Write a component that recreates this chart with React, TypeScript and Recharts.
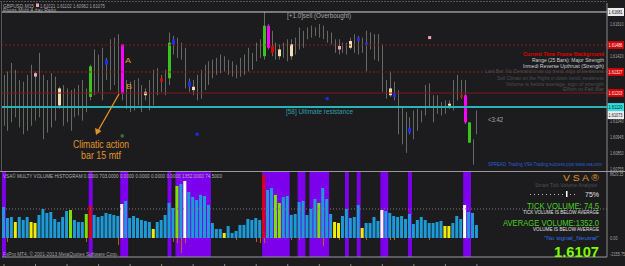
import React from "react"
import { ComposedChart, Bar, Line, XAxis, YAxis, ReferenceLine, ReferenceArea } from "recharts"

// GBPUSD M15, 14 Jul 10:00 -> 15 Jul 16:00, one entry per bar
const highs = [
  1.6131, 1.6133, 1.6138, 1.6134, 1.6128, 1.6127, 1.6131, 1.6137, 1.6133, 1.6144,
  1.6131, 1.6128, 1.6132, 1.613, 1.6124, 1.6125, 1.6123, 1.6122, 1.6123, 1.6125,
  1.6128, 1.6123, 1.6137, 1.6146, 1.6143, 1.6147, 1.6141, 1.6152, 1.6153, 1.6155,
  1.6149, 1.6128, 1.6127, 1.6128, 1.6129, 1.6125, 1.6123, 1.6128, 1.6134, 1.6135,
  1.6131, 1.6134, 1.6156, 1.6154, 1.6153, 1.615, 1.6147, 1.6129, 1.6128, 1.6131,
  1.6134, 1.6137, 1.6139, 1.614, 1.6141, 1.6143, 1.6142, 1.614, 1.6139, 1.6137,
  1.6141, 1.6143, 1.6147, 1.6144, 1.615, 1.6152, 1.6168, 1.6161, 1.6157, 1.615,
  1.6149, 1.615, 1.6152, 1.6152, 1.6153, 1.6159, 1.6157, 1.6159, 1.616, 1.6159,
  1.6161, 1.616, 1.6157, 1.6156, 1.6152, 1.6152, 1.615, 1.615, 1.6153, 1.6155,
  1.6154, 1.6153, 1.6157, 1.6156, 1.6155, 1.6155, 1.6149, 1.6128, 1.6133, 1.6127,
  1.6122, 1.6112, 1.6109, 1.6106, 1.611, 1.6111, 1.611, 1.6125, 1.6126, 1.6119,
  1.6119, 1.6115, 1.6116, 1.6116, 1.6128, 1.6131, 1.6128, 1.6128, 1.6103, 1.6093,
  1.611,
]
const lows = [
  1.6101, 1.6098, 1.6103, 1.6106, 1.61, 1.6096, 1.6098, 1.6101, 1.6104, 1.6106,
  1.6093, 1.6097, 1.61, 1.6104, 1.6111, 1.6101, 1.6103, 1.6098, 1.6106, 1.6107,
  1.6104, 1.6109, 1.6116, 1.6119, 1.6121, 1.6116, 1.6128, 1.6122, 1.6125, 1.6119,
  1.6116, 1.6111, 1.6109, 1.611, 1.6113, 1.6109, 1.6116, 1.611, 1.6113, 1.6119,
  1.6121, 1.6119, 1.6125, 1.6143, 1.6141, 1.614, 1.6123, 1.6121, 1.6119, 1.6116,
  1.6117, 1.6122, 1.6125, 1.6129, 1.6131, 1.6132, 1.6133, 1.6131, 1.613, 1.6129,
  1.613, 1.6131, 1.6133, 1.6134, 1.6139, 1.6141, 1.614, 1.6146, 1.6142, 1.614,
  1.614, 1.6141, 1.6139, 1.614, 1.6143, 1.6146, 1.6147, 1.6152, 1.6153, 1.6154,
  1.6153, 1.6152, 1.615, 1.6149, 1.6144, 1.6143, 1.6144, 1.6143, 1.6146, 1.6144,
  1.6143, 1.6144, 1.6133, 1.6146, 1.614, 1.6139, 1.6121, 1.6117, 1.6118, 1.6116,
  1.6096, 1.609, 1.6085, 1.6096, 1.6093, 1.6098, 1.6103, 1.6107, 1.6112, 1.6103,
  1.6108, 1.6107, 1.6108, 1.6111, 1.611, 1.6116, 1.6117, 1.6102, 1.6091, 1.6078,
  1.6096,
]
// highlighted candle bodies: [bar, top, bottom, signal kind]
const bodies: [number, number, number, string][] = [
  [8, 1.6132, 1.613, "pink"], [14, 1.6123, 1.6113, "tan"], [22, 1.6136, 1.6118, "green"],
  [26, 1.614, 1.6137, "blue"], [30, 1.6149, 1.612, "magenta"], [36, 1.6121, 1.6119, "tan"],
  [40, 1.6129, 1.6127, "red"], [42, 1.615, 1.6129, "green"], [43, 1.6152, 1.6149, "blue"],
  [47, 1.6127, 1.6124, "blue"], [48, 1.6124, 1.6122, "tan"], [66, 1.616, 1.6142, "green"],
  [67, 1.616, 1.6147, "magenta"], [68, 1.6148, 1.6144, "red"], [70, 1.6146, 1.6142, "tan"],
  [73, 1.6149, 1.6142, "tan"], [85, 1.6148, 1.6146, "pink"], [88, 1.6151, 1.6147, "tan"],
  [90, 1.6153, 1.6151, "blue"], [92, 1.615, 1.6149, "blue"], [98, 1.6123, 1.6119, "tan"],
  [99, 1.612, 1.6118, "blue"], [103, 1.61, 1.6097, "blue"], [113, 1.6114, 1.6113, "tan"],
  [116, 1.6119, 1.6118, "red"], [117, 1.6119, 1.6103, "magenta"], [118, 1.6103, 1.6091, "green"],
]
const signals: [number, number, string][] = [
  [30, 1.6095, "darkgreen"], [49, 1.6096, "blue"], [82, 1.6117, "blue"], [108, 1.6153, "pink"],
]

const volumes = [
  4190, 2700, 2840, 2160, 2840, 2430, 2840, 2160, 2030, 3110,
  3920, 3380, 3510, 2570, 2160, 2840, 3650, 3780, 2430, 2160,
  2160, 3240, 4320, 3110, 2840, 2970, 3380, 3240, 3110, 2970,
  4590, 5000, 2700, 2970, 2700, 2430, 2300, 2160, 1220, 2160,
  2430, 3110, 4730, 4050, 7020, 7290, 7700, 6210, 5540, 5130,
  5810, 5670, 4460, 2030, 1220, 1220, 680, 1620, 680, 950,
  1760, 1760, 2570, 2430, 2700, 2430, 8510, 6480, 6750, 5810,
  4730, 5540, 5670, 3110, 3240, 4860, 5000, 3110, 3920, 5270,
  4730, 6750, 5270, 3240, 2160, 2030, 2970, 3920, 2700, 2840,
  4460, 1350, 2030, 2030, 2840, 2300, 3780, 3650, 3380, 2970,
  2840, 2970, 2570, 3240, 1890, 2430, 2840, 2430, 2030, 2030,
  2160, 2300, 1620, 1620, 2030, 2970, 2570, 4460, 3510, 3380,
  1760,
]
const yellowBars = [3, 7, 8, 38, 56, 84, 85, 91, 112, 113]
const greenBars = [17, 21, 44, 69, 70, 80]
const redBars = [22, 66]
const whiteBars = [30, 46, 96, 117]
const downTicks: [number, number][] = [
  [1, -540], [21, -540], [29, -950], [43, -540], [44, -680], [45, -2030], [46, -680],
  [59, -270], [64, -540], [65, -680], [66, -680], [73, -270], [75, -270], [81, -1080],
  [85, -270], [92, -270], [98, -270], [99, -270], [108, -270],
]
const climaxBands: [number, number][] = [
  [0, 0], [22, 22], [30, 31], [42, 42], [44, 52], [66, 72], [75, 76], [78, 82],
  [87, 87], [90, 90], [96, 97], [103, 103], [117, 118],
]
const avgVolume = 3920

const timeTicks = [0, 8, 16, 24, 32, 40, 48, 56, 64, 72, 80, 88, 96, 104, 112, 120]
const timeLabels = [
  "14 Jul 2011", "14 Jul 12:00", "14 Jul 14:00", "14 Jul 16:00", "14 Jul 18:00",
  "14 Jul 20:00", "14 Jul 22:00", "15 Jul 00:00", "15 Jul 02:00", "15 Jul 04:00",
  "15 Jul 06:00", "15 Jul 08:00", "15 Jul 10:00", "15 Jul 12:00", "15 Jul 14:00",
  "15 Jul 16:00",
]
const priceTicks = [1.60755, 1.6085, 1.60945, 1.6104, 1.61135, 1.6123, 1.61325, 1.6142, 1.61515, 1.6161]
const volTicks = [8620.15, 0, -2155.75]

const weekHigh = 1.61681
const supplyLevels = [1.61486, 1.61327]
const dayLevel = 1.61203
const resistance = 1.6112
const bid = 1.61073
// price tags on the axis hide the tick labels that sit under them
const tagged = [weekHigh, ...supplyLevels, dayLevel, resistance, bid]

const bodyColors: Record<string, string> = {
  pink: "#f4a6b8", tan: "#f6ddb0", green: "#3cc21c", blue: "#1c2cf0",
  magenta: "#ff00ff", red: "#e00000", darkgreen: "#2e7d32",
}
const volColor = (i: number) =>
  redBars.includes(i) ? "#e00000"
    : whiteBars.includes(i) ? "#ffffff"
    : yellowBars.includes(i) ? "#f2ec00"
    : greenBars.includes(i) ? "#7ee000"
    : "#1e9ad6"

const candles = highs.map((h, i) => {
  const b = bodies.find((x) => x[0] === i)
  const s = signals.find((x) => x[0] === i)
  return {
    i,
    range: [lows[i], h],
    body: b ? { top: b[1], bottom: b[2], kind: b[3] } : null,
    sig: s ? s[1] : null,
    sigKind: s ? s[2] : null,
  }
})
const volData = volumes.map((v, i) => {
  const d = downTicks.find((x) => x[0] === i)
  return { i, vol: v, down: d ? d[1] : 0 }
})

const FONT = "'Liberation Sans', Arial, sans-serif"
const GRAY = "#a4a4a4"

const CandleShape = (props: any) => {
  const { x, y, width, height, payload } = props
  if (x == null || !payload) return <g />
  const top = Math.min(y, y + height)
  const h = Math.abs(height)
  const cx = Math.round(x + width / 2) + 0.5
  const [lo, hi] = payload.range
  const k = h / (hi - lo || 1)
  const b = payload.body
  return (
    <g>
      <line x1={cx} x2={cx} y1={top} y2={top + h} stroke="#646a61" strokeWidth={1} />
      {b && (
        <rect
          x={cx - 1.5}
          y={top + (hi - b.top) * k}
          width={3}
          height={Math.max(2, (b.top - b.bottom) * k)}
          fill={bodyColors[b.kind]}
        />
      )}
    </g>
  )
}

const SignalDot = (props: any) => {
  const { cx, cy, payload, index } = props
  if (!payload || payload.sig == null || cy == null) return <g key={`s-${index}`} />
  return <rect key={`s-${index}`} x={cx - 1.5} y={cy - 1.5} width={3} height={3} fill={bodyColors[payload.sigKind]} />
}

const VolShape = (props: any) => {
  const { x, y, width, height, payload } = props
  if (x == null || !payload) return <g />
  return <rect x={x} y={Math.min(y, y + height)} width={width} height={Math.abs(height)} fill={volColor(payload.i)} />
}

const DownShape = (props: any) => {
  const { x, y, width, height } = props
  if (x == null || !height) return <g />
  return <rect x={Math.round(x + width / 2)} y={Math.min(y, y + height)} width={1} height={Math.abs(height)} fill="#c8580c" />
}

const PriceTick = (props: any) => {
  const { x, y, payload } = props
  if (tagged.some((p) => Math.abs(p - payload.value) < 0.0003)) return <g />
  return (
    <text x={x} y={y + 2} fontSize={5.5} fill={GRAY} fontFamily={FONT} textLength={13.5} lengthAdjust="spacingAndGlyphs">
      {payload.value.toFixed(5)}
    </text>
  )
}

const VolTick = (props: any) => {
  const { x, y, payload } = props
  const s = payload.value.toFixed(2)
  return (
    <text x={x} y={y + 2} fontSize={5.5} fill={GRAY} fontFamily={FONT} textLength={s.length * 1.9} lengthAdjust="spacingAndGlyphs">
      {s}
    </text>
  )
}

const TimeTick = (props: any) => {
  const { x, y, payload } = props
  const label = timeLabels[timeTicks.indexOf(payload.value)]
  return (
    <g>
      <line x1={x} x2={x} y1={y - 1} y2={y + 1} stroke="#888" />
      <text x={x - 3} y={y + 7} fontSize={5} fill={GRAY} fontFamily={FONT} textLength={23} lengthAdjust="spacingAndGlyphs">
        {label}
      </text>
    </g>
  )
}

const boxLabel = (bg: string, fg: string, text: string) => (props: any) => {
  const vb = props.viewBox
  if (!vb) return <g />
  const x = vb.x + vb.width + 0.5
  const y = vb.y
  return (
    <g>
      <rect x={x} y={y - 4} width={16.5} height={8} fill={bg} />
      <text x={x + 1} y={y + 2.2} fontSize={5.5} fill={fg} fontFamily={FONT} textLength={14} lengthAdjust="spacingAndGlyphs">
        {text}
      </text>
    </g>
  )
}

const T = ({ x, y, w, size = 5.5, color = GRAY, bold = false, children }: any) => (
  <text x={x} y={y} fontSize={size} fill={color} fontFamily={FONT} fontWeight={bold ? "bold" : "normal"}
    textLength={w} lengthAdjust="spacingAndGlyphs">
    {children}
  </text>
)

export default function App() {
  return (
    <div style={{ position: "relative", width: 625, height: 266, background: "#1c1c1f", overflow: "hidden" }}>
      <style>{`body{margin:0;background:#1c1c1f}`}</style>

      <div style={{ position: "absolute", left: 0, top: 0 }}>
        <ComposedChart width={625} height={172} data={candles} margin={{ top: 3, right: 0, bottom: 1, left: 2 }}>
          <XAxis dataKey="i" type="number" domain={[-0.5, 153]} hide allowDataOverflow />
          <YAxis
            orientation="right"
            width={18}
            domain={[1.60743, 1.61734]}
            ticks={priceTicks}
            interval={0}
            tick={PriceTick}
            tickLine={false}
            tickSize={1}
            axisLine={{ stroke: "#8a8a8a" }}
            allowDataOverflow
          />
          <ReferenceLine y={weekHigh} stroke="#d8d8d8" label={boxLabel("#ececec", "#111", weekHigh.toFixed(5))} />
          {supplyLevels.map((p) => (
            <ReferenceLine key={p} y={p} stroke="#8c1c1c" strokeDasharray="2 2" label={boxLabel("#d00000", "#fff", p.toFixed(5))} />
          ))}
          <ReferenceLine y={dayLevel} stroke="#7c1818" label={boxLabel("#d00000", "#fff", dayLevel.toFixed(5))} />
          <ReferenceLine y={resistance} stroke="#28b4b8" strokeWidth={2} label={boxLabel("#2ee0e0", "#111", resistance.toFixed(5))} />
          <ReferenceLine y={bid} stroke="none" label={boxLabel("#ececec", "#111", bid.toFixed(5))} />
          <Bar dataKey="range" barSize={3} shape={CandleShape} isAnimationActive={false} />
          <Line dataKey="sig" stroke="none" dot={SignalDot} activeDot={false} isAnimationActive={false} connectNulls={false} />
        </ComposedChart>
      </div>

      <div style={{ position: "absolute", left: 0, top: 172 }}>
        <ComposedChart width={625} height={94} data={volData} margin={{ top: 0, right: 0, bottom: 0, left: 2 }} stackOffset="sign">
          <XAxis
            dataKey="i"
            type="number"
            domain={[-0.5, 153]}
            ticks={timeTicks}
            interval={0}
            height={9}
            tick={TimeTick}
            tickLine={false}
            axisLine={{ stroke: "#9a9a9a" }}
            allowDataOverflow
          />
          <YAxis
            orientation="right"
            width={18}
            domain={[-2565, 8910]}
            ticks={volTicks}
            interval={0}
            tick={VolTick}
            tickLine={false}
            tickSize={1}
            axisLine={{ stroke: "#8a8a8a" }}
            allowDataOverflow
          />
          {climaxBands.map(([a, b]) => (
            <ReferenceArea key={a} x1={a - 0.5} x2={b + 0.5} fill="#7d00ec" fillOpacity={1} stroke="none" />
          ))}
          <ReferenceLine y={avgVolume} stroke="#7a7a7a" strokeDasharray="1 2" />
          <Bar dataKey="vol" stackId="v" barSize={3} shape={VolShape} isAnimationActive={false} />
          <Bar dataKey="down" stackId="v" barSize={3} shape={DownShape} isAnimationActive={false} />
        </ComposedChart>
      </div>

      <svg width={625} height={266} style={{ position: "absolute", left: 0, top: 0, pointerEvents: "none" }}>
        <line x1={0} x2={607} y1={1.5} y2={1.5} stroke="#555" strokeDasharray="2 1" />
        <line x1={1.5} x2={1.5} y1={1} y2={171} stroke="#555" />
        <line x1={0} x2={625} y1={171.5} y2={171.5} stroke="#9a9a9a" />

        <T x={3} y={7.5} w={31}>GBPUSD,M15</T>
        <rect x={36} y={3.5} width={3} height={3.5} fill="#f4a6b8" />
        <T x={40} y={7.5} w={65}>1.61021 1.61102 1.60962 1.61075</T>
        <T x={3} y={11.5} w={53} size={5}>Pivots Multi 4 day Ratio</T>
        <T x={287} y={18} w={64} size={7}>[+1.0]sell (Overbought)</T>

        <T x={125} y={63} w={6} size={8} color="#e0952a">A</T>
        <T x={126} y={89} w={6} size={8} color="#e0952a">B</T>
        <line x1={119} y1={94} x2={98.5} y2={130} stroke="#e0952a" strokeWidth={1.3} />
        <polygon points="96,135 95,128 101.5,131" fill="#e0952a" />
        <T x={73} y={148} w={56} size={10} color="#e0952a">Climatic action</T>
        <T x={81} y={159} w={40} size={10} color="#e0952a">bar 15 mtf</T>

        <T x={286} y={114} w={67} size={7} color="#2d9ca5">[58] Ultimate resistance</T>

        <T x={523} y={55.5} w={81} color="#e00000" bold>Current Time Frame Background</T>
        <T x={532} y={62} w={72} color="#d0d0d0">Range (25 Bars): Major Strength</T>
        <T x={523} y={68} w={81} color="#d0d0d0">Inmedi Reverse Upthrust (Strength)</T>
        <T x={485} y={73} w={119} color="#4c4c4c">Last Bar: No Demand in an up trend, sign of weakness</T>
        <T x={497} y={79.5} w={107} color="#4c4c4c">Sell Climax on the Highs in down trend, weakness</T>
        <T x={506} y={85.5} w={98} color="#4c4c4c">Volume is below average, sign of strength</T>
        <T x={563} y={91} w={41} color="#4c4c4c">Effort to Fall Bar</T>

        <T x={488} y={122} w={15} size={6.5} color="#a8a8a8">&lt;3:42</T>
        <T x={488} y={166} w={114} color="#2a5fd0">SPREAD: Trading VSA Trading success pips www.vsa.com</T>

        <T x={3} y={177.5} w={219} color="#b0b0b0">VSA© MULTY VOLUME HISTOGRAM 0.0000 703.0000 0.0000 0.0000 0.0000 0.0000 1352.0000 74.5000</T>
        <T x={3} y={256} w={115} color="#a0a0a0">FxPro MT4, © 2001-2013 MetaQuotes Software Corp.</T>

        <T x={563} y={181} w={36} size={9} color="#e0952a">V S A ®</T>
        <T x={535} y={186.5} w={62} size={5} color="#505050">Smart Tick Volume Analysis</T>
        <line x1={530} x2={577} y1={194.5} y2={194.5} stroke="#bbb" strokeDasharray="1 3" />
        <rect x={566} y={191} width={1.5} height={6} fill="#ffffff" />
        <T x={585} y={197} w={14} size={7} color="#e0e0e0">75%</T>
        <T x={527} y={208.5} w={72} size={8.5} color="#4ad020">TICK VOLUME: 74.5</T>
        <T x={523} y={213.5} w={76} size={5} color="#e0e0e0">TICK VOLUME IS BELOW AVERAGE</T>
        <T x={503} y={225.5} w={96} size={8.5} color="#4ad020">AVERAGE VOLUME:1352.0</T>
        <T x={533} y={231} w={66} size={5} color="#e0e0e0">VOLUME IS BELOW AVERAGE</T>
        <T x={544} y={240} w={55} size={6} color="#3070e0">"No signal_Neutral"</T>
        <T x={554} y={257} w={45} size={15} color="#7cfc00" bold>1.6107</T>
      </svg>
    </div>
  )
}
